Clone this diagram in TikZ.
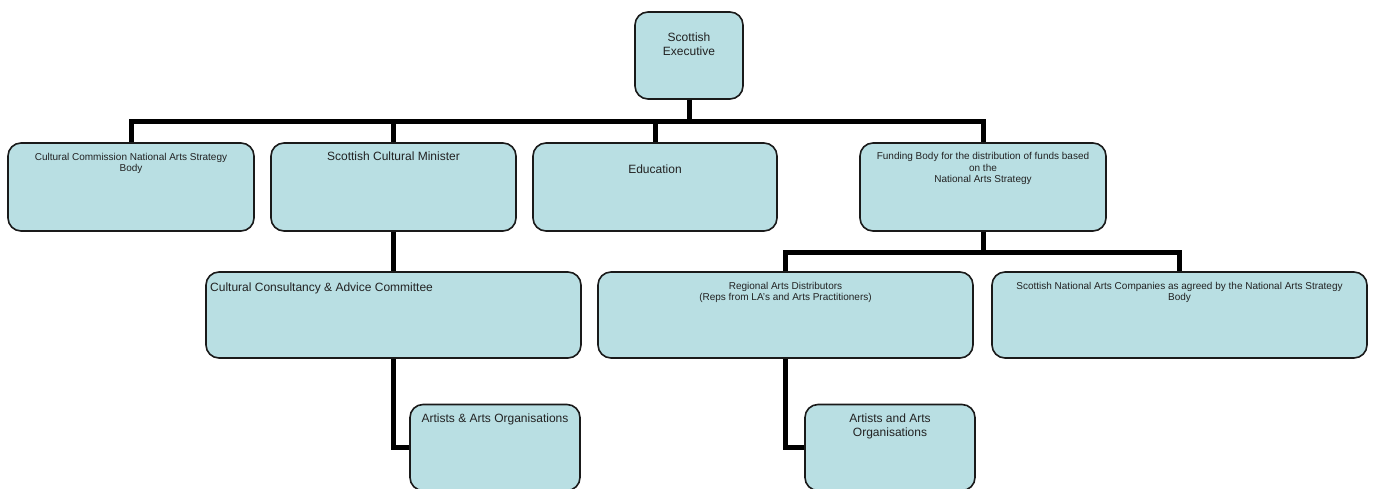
\documentclass[tikz,border=0pt]{standalone}
\usepackage{fontspec}
\setmainfont{Liberation Sans}
\definecolor{boxfill}{HTML}{B9DFE3}
\definecolor{boxline}{HTML}{1A1A1A}
\definecolor{txt}{HTML}{222222}
\begin{document}
\begin{tikzpicture}[x=1pt,y=-1pt,
  box/.style={draw=boxline,line width=1.6pt,fill=boxfill,rounded corners=13pt,inner sep=0pt},
  conn/.style={draw=black,line width=5pt},
  lbl/.style={anchor=north,inner sep=0pt,align=center,text=txt,font=\fontsize{10}{11.5}\selectfont},
  big/.style={font=\fontsize{12}{14}\selectfont}]
\useasboundingbox (0,0) rectangle (1377,488);
\clip (0,0) rectangle (1377,488);
% boxes
\node[box,minimum width=108pt,minimum height=87pt] (exec) at (689,55.5) {};
\node[box,minimum width=246pt,minimum height=88pt] (comm) at (131,187) {};
\node[box,minimum width=245pt,minimum height=88pt] (mini) at (393.5,187) {};
\node[box,minimum width=244pt,minimum height=88pt] (educ) at (655,187) {};
\node[box,minimum width=246pt,minimum height=88pt] (fund) at (983,187) {};
\node[box,minimum width=375pt,minimum height=86pt] (cons) at (393.5,315) {};
\node[box,minimum width=375pt,minimum height=86pt] (regi) at (785.5,315) {};
\node[box,minimum width=375pt,minimum height=86pt] (comp) at (1179.5,315) {};
\node[box,minimum width=170pt,minimum height=86pt] (art1) at (495,447.5) {};
\node[box,minimum width=170pt,minimum height=86pt] (art2) at (890,447.5) {};
% connectors
\draw[conn] (exec.south) -- ++(0,22) -| (comm.north);
\draw[conn] (exec.south) -- ++(0,22) -| (mini.north);
\draw[conn] (exec.south) -- ++(0,22) -| (educ.north);
\draw[conn] (exec.south) -- ++(0,22) -| (fund.north);
\draw[conn] (mini.south) -- (cons.north);
\draw[conn] (fund.south) -- ++(0,21) -| (regi.north);
\draw[conn] (fund.south) -- ++(0,21) -| (comp.north);
\draw[conn] (cons.south) |- (art1.west);
\draw[conn] (regi.south) |- (art2.west);
% texts
\node[lbl,big] (texec) at (689,33) {Scottish\\Executive};
\node[lbl] (tcomm) at (131,153) {Cultural Commission National Arts Strategy\\Body};
\node[lbl,big] (tmini) at (393.5,151.5) {Scottish Cultural Minister};
\node[lbl,big] (teduc) at (655,165) {Education};
\node[lbl] (tfund) at (983,152.5) {Funding Body for the distribution of funds based\\on the\\National Arts Strategy};
\node[lbl,big,anchor=north west,align=left] (tcons) at (210,283) {Cultural Consultancy \& Advice Committee};
\node[lbl] (tregi) at (785.5,282) {Regional Arts Distributors\\(Reps from LA's and Arts Practitioners)};
\node[lbl] (tcomp) at (1179.5,282) {Scottish National Arts Companies as agreed by the National Arts Strategy\\Body};
\node[lbl,big] (tart1) at (495,413.5) {Artists \& Arts Organisations};
\node[lbl,big] (tart2) at (890,413.5) {Artists and Arts\\Organisations};
\end{tikzpicture}
\end{document}
